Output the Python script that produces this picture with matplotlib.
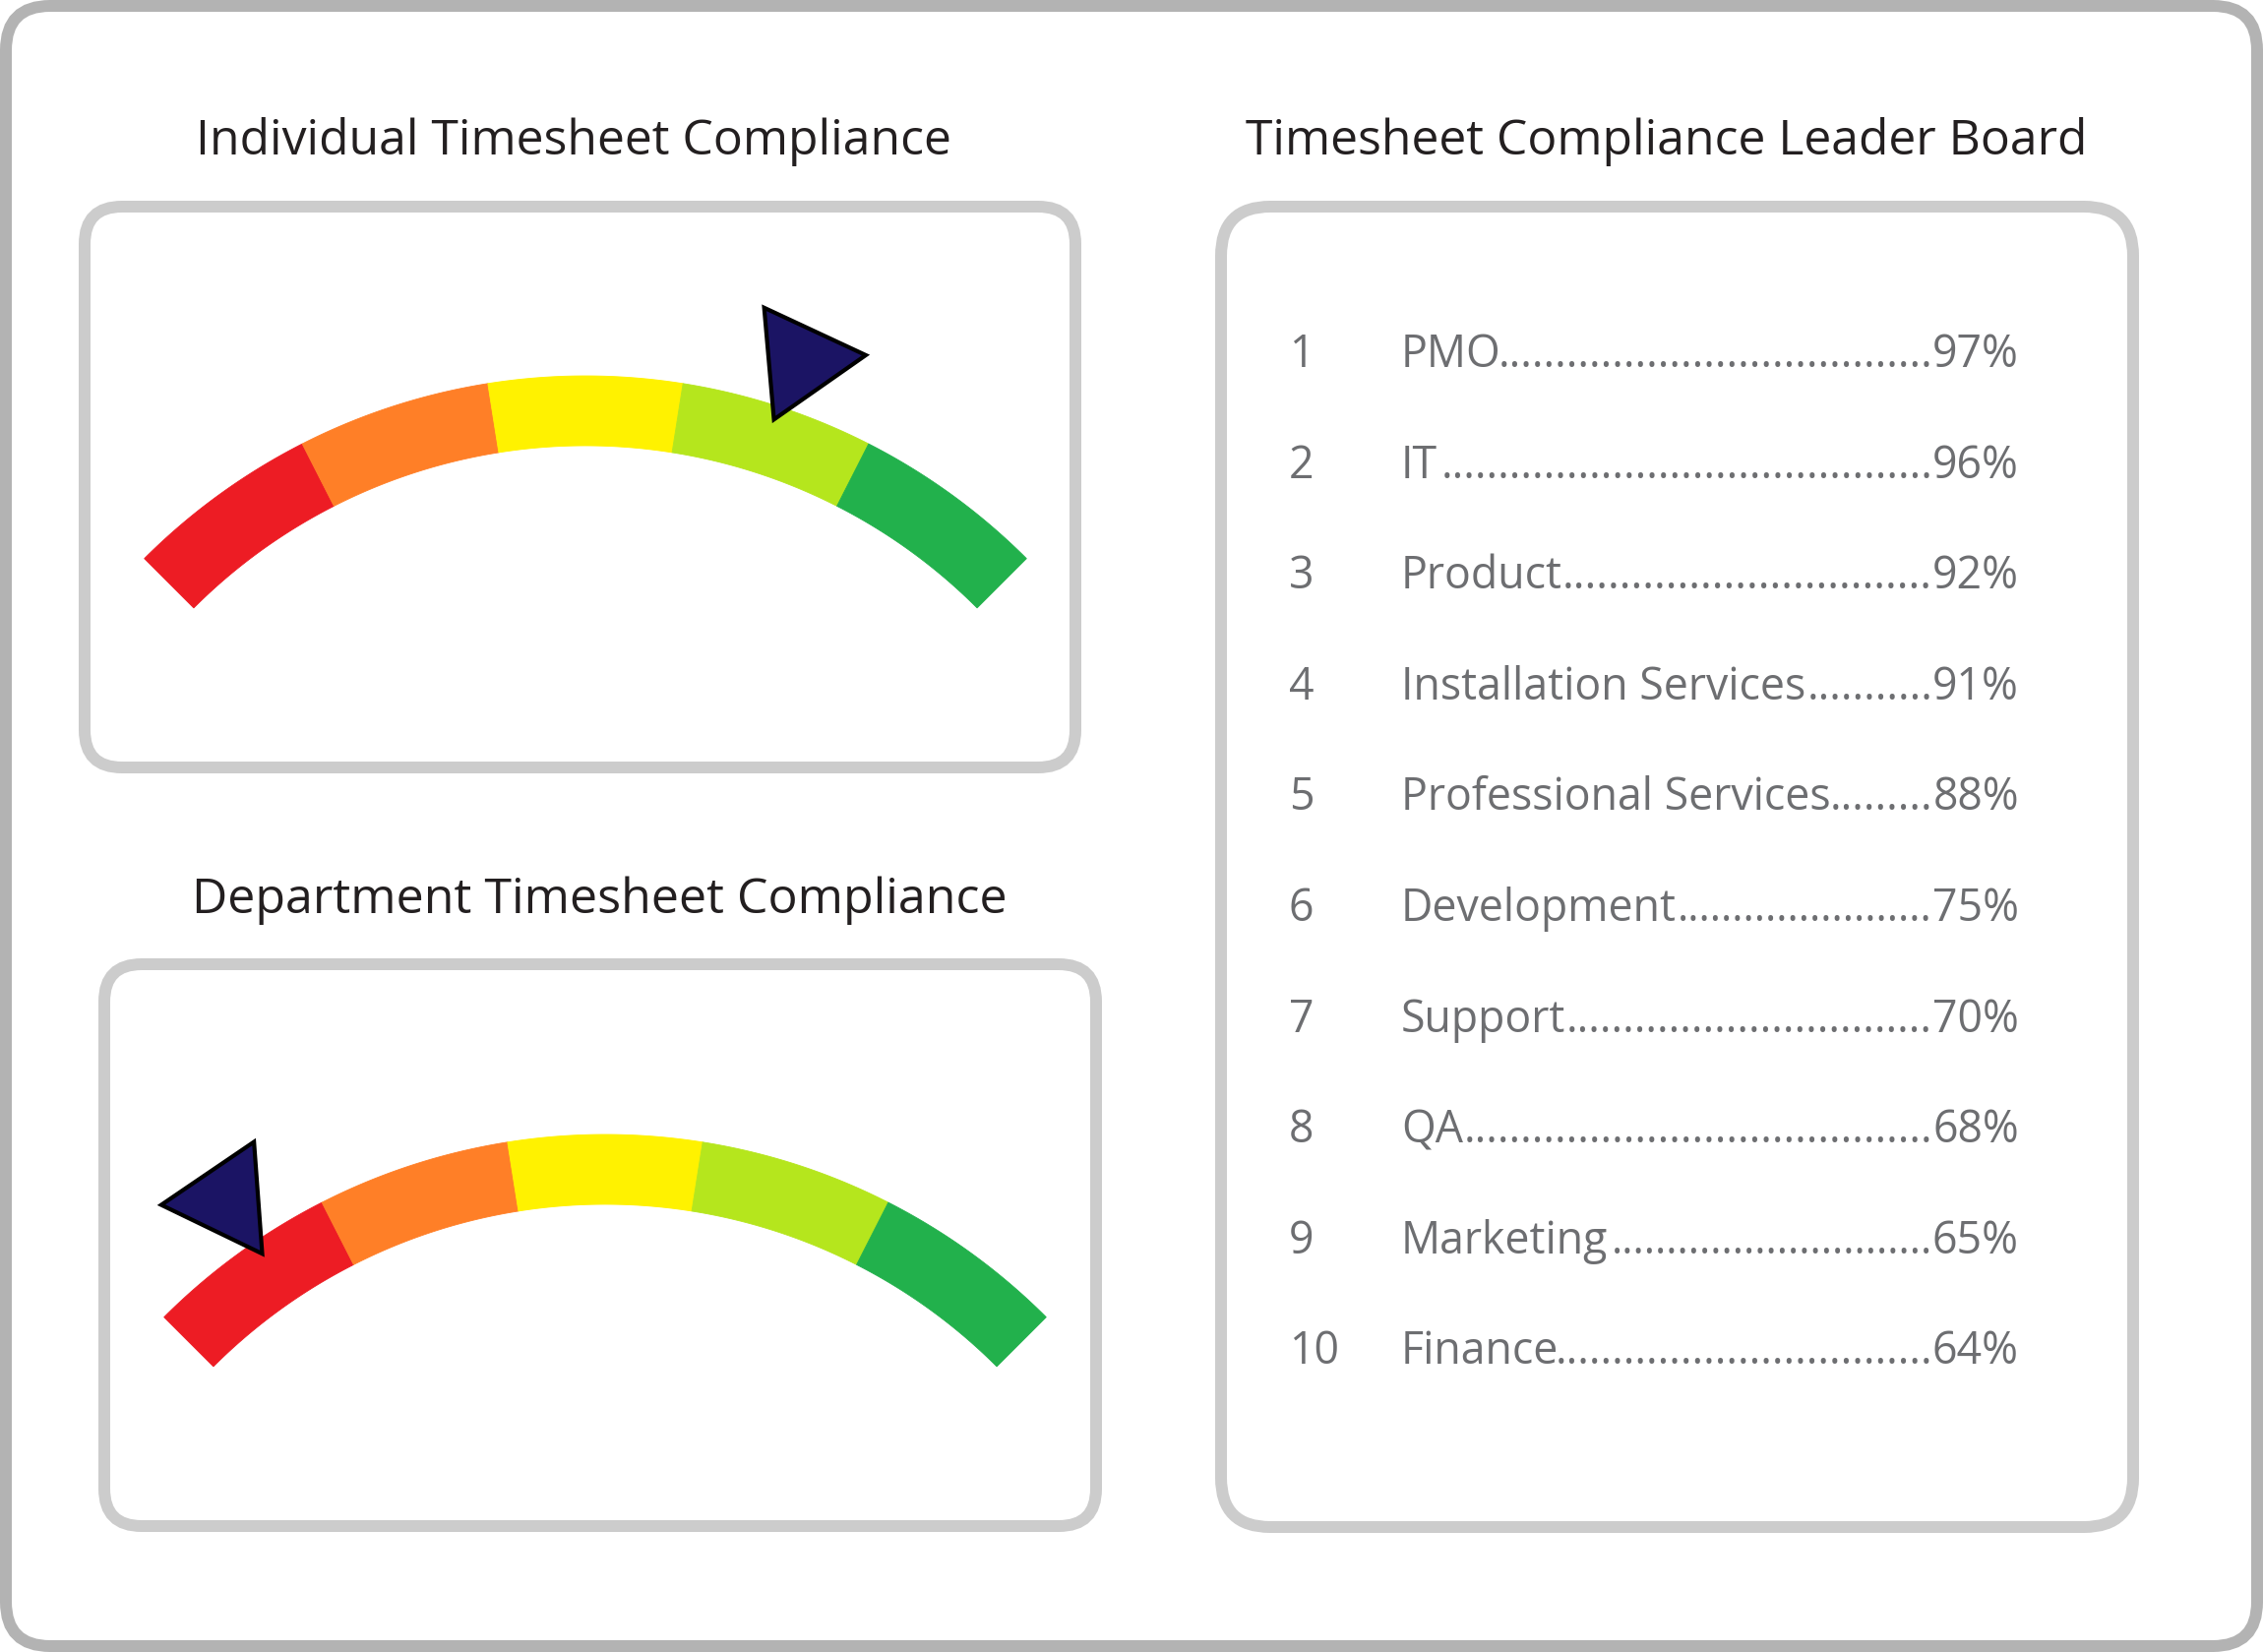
import matplotlib
matplotlib.use("Agg")
import matplotlib.pyplot as plt
from matplotlib.patches import Polygon, FancyBboxPatch
import numpy as np

plt.rcParams['font.family'] = ['Open Sans', 'DejaVu Sans']

# gauge data
band_edges = [0, 20, 40, 60, 80, 100]
band_colors = ['#ed1c24', '#ff7f27', '#fff200', '#b5e61d', '#22b14c']
gauge_titles = ['Individual Timesheet Compliance', 'Department Timesheet Compliance']
gauge_values = [70, 12]

# leader board data
board_title = 'Timesheet Compliance Leader Board'
ranks = [1, 2, 3, 4, 5, 6, 7, 8, 9, 10]
departments = ['PMO', 'IT', 'Product', 'Installation Services', 'Professional Services',
               'Development', 'Support', 'QA', 'Marketing', 'Finance']
compliance = [97, 96, 92, 91, 88, 75, 70, 68, 65, 64]

W, H = 2300, 1679
fig = plt.figure(figsize=(W / 100, H / 100), dpi=100)
ax = fig.add_axes([0, 0, 1, 1])
ax.set_xlim(0, W)
ax.set_ylim(H, 0)
ax.axis('off')
renderer = fig.canvas.get_renderer()


def frame(x0, y0, x1, y1, rad, color, lw_px):
    p = FancyBboxPatch((x0, y0), x1 - x0, y1 - y0,
                       boxstyle="round,pad=0,rounding_size=%d" % rad,
                       fill=False, ec=color, lw=lw_px * 0.72)
    ax.add_patch(p)


def gauge(cx, cy, value, tilt):
    R, r = 634, 563
    for lo, hi, col in zip(band_edges[:-1], band_edges[1:], band_colors):
        a = np.radians(np.linspace(135 - 0.9 * lo, 135 - 0.9 * hi, 80))
        xs = np.concatenate([cx + R * np.cos(a), cx + r * np.cos(a[::-1])])
        ys = np.concatenate([cy - R * np.sin(a), cy - r * np.sin(a[::-1])])
        ax.add_patch(Polygon(np.column_stack([xs, ys]), closed=True,
                             fc=col, ec=col, lw=0.6))
    # pointer
    phi = np.radians(135 - 0.9 * value)
    u = np.array([np.cos(phi), np.sin(phi)])
    v = np.array([np.sin(phi), -np.cos(phi)])
    tip = 620 * u
    pts = [tip]
    for a in (tilt - 30, tilt + 30):
        al = np.radians(a)
        pts.append(tip + 114 * (np.cos(al) * u + np.sin(al) * v))
    pts = np.array(pts)
    ax.add_patch(Polygon(np.column_stack([cx + pts[:, 0], cy - pts[:, 1]]), closed=True,
                         fc='#1b1464', ec='black', lw=3, joinstyle='miter', zorder=5))


def fit_text(x, y, s, width, **kw):
    t = ax.text(x, y, s, fontsize=40, **kw)
    w = t.get_window_extent(renderer).width
    t.set_fontsize(40 * width / w)
    return t


# frames
frame(6, 6, 2294, 1673, 45, '#b3b3b3', 12)
frame(86, 210, 1093, 780, 38, '#cccccc', 12)
frame(106, 980, 1114, 1551, 38, '#cccccc', 12)
frame(1241, 210, 2168, 1552, 50, '#cccccc', 12)

# gauges
gauge(595, 1016, gauge_values[0], 7)
gauge(615, 1787, gauge_values[1], 0)

fit_text(583, 157, gauge_titles[0], 768, ha='center', va='baseline', color='#231f20')
fit_text(609, 928, gauge_titles[1], 827, ha='center', va='baseline', color='#231f20')
fit_text(1694, 157, board_title, 854, ha='center', va='baseline', color='#231f20')

# leader board
gray = '#6d6e71'
probe = ax.text(0, 0, 'Installation Services', fontsize=30)
fs = 30 * 411 / probe.get_window_extent(renderer).width
probe.remove()
dot_probe = ax.text(0, 0, '.' * 40, fontsize=fs)
dot_w = dot_probe.get_window_extent(renderer).width / 40
dot_probe.remove()

for i, (rk, name, pct) in enumerate(zip(ranks, departments, compliance)):
    y = 373 + i * 112.6
    ax.text(1310, y, str(rk), fontsize=fs, color=gray, ha='left', va='baseline')
    tn = ax.text(1424, y, name, fontsize=fs, color=gray, ha='left', va='baseline')
    tp = ax.text(2052, y, '%d%%' % pct, fontsize=fs, color=gray, ha='right', va='baseline')
    x_name = tn.get_window_extent(renderer).x1
    x_pct = tp.get_window_extent(renderer).x0
    gap = x_pct - x_name
    n = int(np.ceil(gap / dot_w))
    # shrink the leader dots slightly so they fill the gap exactly
    ax.text(x_pct, y, '.' * n, fontsize=fs * gap / (n * dot_w), color=gray,
            ha='right', va='baseline')

fig.savefig('out.png', dpi=100, facecolor='white')
